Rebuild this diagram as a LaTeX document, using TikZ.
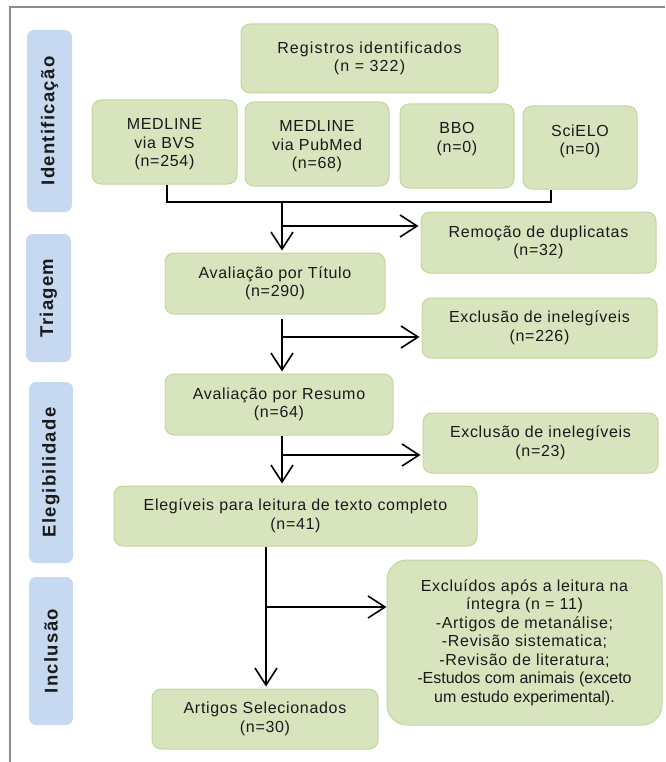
\documentclass[tikz,border=0pt]{standalone}
\usepackage{fontspec}
\setmainfont{Liberation Sans}[LetterSpace=4.3]
\usetikzlibrary{arrows.meta,calc}
\definecolor{gfill}{HTML}{D7E4BD}
\definecolor{gline}{HTML}{C3D69B}
\definecolor{bfill}{HTML}{C6D9F1}
\definecolor{frame}{HTML}{8C8C8C}
\definecolor{txt}{HTML}{1A1A1A}
\newcommand{\notrack}{\addfontfeature{LetterSpace=0}}
\newcommand{\widetrack}{\addfontfeature{LetterSpace=7}}
\begin{document}
\begin{tikzpicture}[x=1pt,y=-1pt,
  gbox/.style={draw=gline, fill=gfill, line width=1pt, rounded corners=9pt,
    align=center, text=txt, font=\fontsize{16}{18.5}\selectfont, inner sep=0pt},
  gtext/.style={align=center, text=txt, font=\fontsize{16}{18.5}\selectfont, inner sep=0pt},
  sidebox/.style={fill=bfill, rounded corners=7pt, inner sep=0pt},
  sidetext/.style={rotate=90, text=txt, font=\fontsize{18.5}{20}\selectfont\bfseries\addfontfeature{LetterSpace=7}},
  conn/.style={line width=1.6pt, draw=black},
  arr/.style={conn, -{Straight Barb[length=17pt,width=22pt]}, shorten >=2pt}
]
\useasboundingbox (0,0) rectangle (665,762);
% frame
\draw[frame, line width=1.5pt] (10,762) -- (10,7) -- (665,7);

% side boxes
\node[sidebox, minimum width=45, minimum height=182] (idb) at (49.5,121) {};
\node[sidetext] (idt) at (idb.center) {Identificação};
\node[sidebox, minimum width=45, minimum height=128] (trb) at (48.5,298) {};
\node[sidetext] (trt) at (trb.center) {Triagem};
\node[sidebox, minimum width=44, minimum height=181] (elb) at (51,472.5) {};
\node[sidetext] (elt) at (elb.center) {Elegibilidade};
\node[sidebox, minimum width=44, minimum height=148] (inb) at (51,651) {};
\node[sidetext] (int) at (inb.center) {Inclusão};

% green boxes
\node[gbox, minimum width=257, minimum height=69] (reg) at (369.5,58.5) {{\widetrack Registros identificados}\\{\widetrack (n = 322)}};
\node[gbox, minimum width=145, minimum height=84] (bvs) at (164.5,142) {};
\node[gtext, anchor=north] (bvst) at ($(bvs.north)+(0,19)$) {MEDLINE\\via BVS\\(n=254)};
\node[gbox, minimum width=144, minimum height=84] (pub) at (317,144) {};
\node[gtext, anchor=north] (pubt) at ($(pub.north)+(0,19)$) {MEDLINE\\via PubMed\\(n=68)};
\node[gbox, minimum width=114, minimum height=84] (bbo) at (457,146) {};
\node[gtext, anchor=north] (bbot) at ($(bbo.north)+(0,19)$) {BBO\\(n=0)};
\node[gbox, minimum width=114, minimum height=83] (sci) at (580,147.5) {};
\node[gtext, anchor=north] (scit) at ($(sci.north)+(0,19)$) {SciELO\\(n=0)};

\node[gbox, minimum width=235, minimum height=61] (rem) at (538.5,242.5) {Remoção de duplicatas\\(n=32)};
\node[gbox, minimum width=220, minimum height=61] (tit) at (275,283.5) {Avaliação por Título\\(n=290)};
\node[gbox, minimum width=235, minimum height=60] (exa) at (539.5,328) {Exclusão de inelegíveis\\(n=226)};
\node[gbox, minimum width=228, minimum height=61] (res) at (279,404.5) {Avaliação por Resumo\\(n=64)};
\node[gbox, minimum width=235, minimum height=60] (exb) at (540.5,443) {Exclusão de inelegíveis\\(n=23)};
\node[gbox, minimum width=363, minimum height=60] (ele) at (295.5,516) {Elegíveis para leitura de texto completo\\(n=41)};
\node[gbox, rounded corners=20pt, minimum width=275, minimum height=165] (exc) at (524.5,642.5)
  {Excluídos após a leitura na\\íntegra (n = 11)\\-Artigos de metanálise;\\-Revisão sistematica;\\-Revisão de literatura;\\{\notrack -Estudos com animais (exceto}\\{\notrack um estudo experimental).}};
\node[gbox, minimum width=226, minimum height=60] (art) at (265,719) {Artigos Selecionados\\(n=30)};

% connectors
\coordinate (brk) at (551,202);
\coordinate (m1) at (282,202);
\coordinate (b1) at (282,226);
\coordinate (b2) at (282,337);
\coordinate (b3) at (282,455);
\coordinate (b4) at (266,607);
\draw[conn] ([xshift=2.5pt]bvs.south) |- (brk) -- (brk |- sci.south);
\draw[arr] (m1) -- (m1 |- tit.north);
\draw[arr] (b1) -- (b1 -| rem.west);
\draw[arr] ([yshift=-4pt]b2 |- tit.south) -- (b2 |- res.north);
\draw[arr] (b2) -- (b2 -| exa.west);
\draw[arr] (b3 |- res.south) -- (b3 |- ele.north);
\draw[arr] (b3) -- (b3 -| exb.west);
\draw[arr] (b4 |- ele.south) -- (b4 |- art.north);
\draw[arr, shorten >=0pt] (b4) -- (b4 -| exc.west);
\end{tikzpicture}
\end{document}
